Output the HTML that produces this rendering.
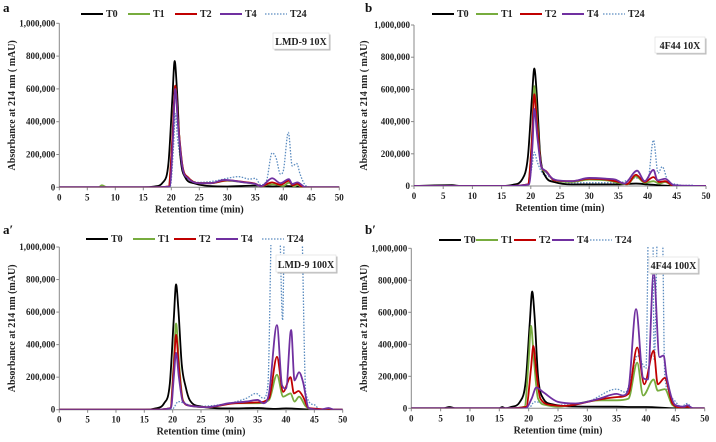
<!DOCTYPE html>
<html><head><meta charset="utf-8">
<style>
html,body{margin:0;padding:0;background:#fff;}
svg{display:block;font-family:"Liberation Serif",serif;}
.tick{font-size:9px;font-weight:bold;fill:#222;}
.ttl{font-size:10px;font-weight:bold;fill:#222;}
.leg{font-size:10px;font-weight:bold;fill:#222;}
.panel{font-size:13px;font-weight:bold;fill:#111;}
</style></head>
<body>
<svg id="chart" width="716" height="442" viewBox="0 0 716 442"></svg>
<script>
// ---- data (values in thousands of mAU), points are [time(min), value] ----
const xTicks=[0,5,10,15,20,25,30,35,40,45,50];
const yTicks=[0,200000,400000,600000,800000,1000000];
const yTickLabels=["0","200,000","400,000","600,000","800,000","1,000,000"];
const seriesNames=["T0","T1","T2","T4","T24"];

const aT0=[[0,0],[15,0],[17,5],[18.5,30],[19.5,150],[20.2,550],[20.6,770],[21,600],[21.6,200],[22.5,60],[24,25],[26,10],[30,5],[35,10],[38,5],[40,8],[45,0],[50,0]];
const aT1=[[0,0],[7,0],[7.6,12],[8.5,0],[16,0],[19.5,5],[20.2,300],[20.7,620],[21.2,400],[22,130],[23,60],[25,25],[27,25],[30,40],[33,30],[35,20],[36,5],[37.5,18],[38.5,18],[40,8],[41,28],[42,5],[42.5,15],[43.5,0],[50,0]];
const aT2=[[0,0],[16,0],[19.5,5],[20.2,300],[20.7,620],[21.2,400],[22,130],[23,60],[25,25],[27,25],[30,42],[33,32],[35,22],[36,6],[38,30],[39.5,15],[41,40],[41.7,12],[42.5,22],[43.5,0],[50,0]];
const aT4=[[0,0],[16,0],[19.7,5],[20.3,300],[20.7,600],[21.2,380],[22,120],[23,55],[25,25],[27,25],[29.5,45],[33,30],[35,20],[36,6],[38,55],[39.5,25],[41,50],[41.6,20],[42.5,30],[44,0],[50,0]];
const aT24=[[0,0],[16,0],[19.8,5],[20.4,250],[20.7,450],[21.1,300],[22,120],[23,60],[25,30],[28,40],[30,55],[32,65],[34,50],[35,55],[36,15],[37,40],[38,210],[38.7,180],[39.5,80],[40,100],[40.9,335],[41.6,130],[42.4,145],[43,80],[44,10],[45,0],[50,0]];

const bT0=[[0,0],[6.5,5],[8,0],[15,0],[17,8],[18.5,40],[19.5,180],[20.2,550],[20.6,730],[21,580],[21.6,200],[22.5,60],[24,25],[27,10],[35,10],[38,15],[40,10],[45,0],[50,0]];
const bT1=[[0,0],[16,0],[19.5,10],[20.2,300],[20.6,620],[21.1,400],[21.8,120],[22.5,90],[24,35],[27,25],[30,40],[33,35],[35,20],[36.5,10],[38,60],[39.5,20],[41,30],[42,15],[43,25],[44.5,0],[50,0]];
const bT2=[[0,0],[16,0],[19.5,10],[20.2,290],[20.6,570],[21.1,370],[21.8,120],[22.5,95],[24,35],[27,30],[30,45],[33,40],[35,25],[36.5,12],[38,70],[39.5,25],[41,55],[42,25],[43,30],[44.5,0],[50,0]];
const bT4=[[0,0],[16,0],[19.7,10],[20.3,260],[20.6,480],[21.1,310],[21.8,120],[22.3,100],[24,40],[27,30],[30,50],[33,45],[34.5,40],[36,15],[38.2,95],[39.5,30],[41,100],[41.7,35],[43,45],[44.5,5],[50,0]];
const bT24=[[0,0],[16,0],[19.5,5],[20.2,120],[20.6,210],[21.1,150],[22,80],[23,60],[25,30],[27,20],[35,20],[38,50],[40,30],[41,285],[41.8,80],[42.5,120],[43.5,30],[45,10],[46,3],[47.5,5],[48.5,0],[50,0]];

const cT0=[[0,0],[15,0],[17,8],[18.5,40],[19.5,160],[20.2,560],[20.6,770],[21,620],[21.6,280],[22.3,140],[23,60],[25,20],[30,8],[35,10],[38,5],[40,8],[45,0],[50,0]];
const cT1=[[0,0],[16,0],[19.6,10],[20.2,300],[20.6,530],[21.1,300],[21.8,60],[23,25],[26,15],[31,40],[35,40],[37,60],[38.4,215],[39.5,80],[40.8,100],[41.5,50],[42.3,80],[43.5,20],[45,0],[50,0]];
const cT2=[[0,0],[16,0],[19.6,10],[20.2,260],[20.6,460],[21.1,260],[21.8,55],[23,25],[26,15],[31,40],[35,45],[37,70],[38.4,325],[39.5,110],[40.8,200],[41.4,100],[42.2,115],[43,80],[44,10],[50,0]];
const cT4=[[0,0],[16,0],[19.7,10],[20.2,200],[20.6,350],[21.1,200],[21.8,50],[24,20],[26,15],[30,40],[33,50],[35,60],[36,40],[37,100],[38.4,520],[39.3,150],[40,130],[40.9,490],[41.5,180],[42.3,230],[43,170],[44,10],[46,0],[47.5,10],[48.5,0],[50,0]];
const cT24=[[0,0],[19,0],[20,5],[21,50],[22,40],[24,20],[30,40],[33,70],[34.7,100],[36,70],[36.8,150],[37.6,1300],[38.7,1300],[39.4,550],[39.8,1300],[40.3,1300],[42.6,1300],[43.5,100],[45,30],[46,0],[47.5,10],[48.5,0],[50,0]];

const dT0=[[0,0],[5.5,0],[6.5,8],[7.5,0],[15,0],[15.5,8],[16,0],[17,8],[18.5,40],[19.5,170],[20.2,540],[20.6,730],[21,580],[21.6,200],[22.5,60],[24,25],[27,12],[35,10],[38,8],[40,8],[45,0],[50,0]];
const dT1=[[0,0],[16,0],[19.3,10],[20,300],[20.4,515],[20.9,300],[21.6,60],[23,20],[25,10],[32,50],[35,50],[37,60],[38.5,285],[39.5,80],[41.3,180],[42,110],[43.2,120],[44.5,20],[46,5],[47,10],[48,0],[50,0]];
const dT2=[[0,0],[16,0],[19.6,10],[20.4,250],[20.8,390],[21.3,230],[22,60],[24,20],[26,15],[32,55],[35,70],[37,90],[38.5,380],[39.7,150],[41.3,360],[42,150],[43.2,190],[44.5,30],[46,5],[47,10],[48,0],[50,0]];
const dT4=[[0,0],[19.5,0],[20.5,60],[21.3,130],[22.5,100],[25,40],[28,30],[32,60],[35,90],[36,80],[37,120],[38.3,620],[39.5,190],[40.3,180],[41.3,850],[42.3,320],[43,330],[43.5,200],[45,20],[46.5,10],[47,20],[48,0],[50,0]];
const dT24=[[0,0],[20,0],[21,40],[25,20],[30,40],[35,120],[36.5,100],[37.5,200],[38.5,330],[40,250],[40.5,1300],[41.1,1300],[41.4,300],[42.1,1300],[42.7,1300],[43.2,200],[44.5,60],[46,10],[47,30],[48,0],[50,0]];

const colors=["#000000","#77ac3e","#c00000","#7030a0","#5b8cc0"];

const panels=[
 {id:"a",tag:"a",L:59.3,R:339.3,T:23.3,B:187.3,series:[aT0,aT1,aT2,aT4,aT24],ylab:"Absorbance at 214 nm ( mAU)",
  legY:17,legX:[81,128,175,220,265],label:"LMD-9 10X",box:[273,33,56,16],tagPos:[3,12]},
 {id:"b",tag:"b",L:414,R:706,T:25,B:186,series:[bT0,bT1,bT2,bT4,bT24],ylab:"Absorbance at 214 nm ( mAU)",
  legY:17,legX:[432,476,520,562,603],label:"4F44 10X",box:[655,37,50,16],tagPos:[365,12]},
 {id:"a-prime",tag:"a\u2032",L:59.3,R:342.7,T:247,B:409.7,series:[cT0,cT1,cT2,cT4,cT24],ylab:"Absorbance at 214 nm (mAU)",
  legY:242,legX:[86,133,174,216,262],label:"LMD-9 100X",box:[276,255,60,17],tagPos:[3,234]},
 {id:"b-prime",tag:"b\u2032",L:411.3,R:704.7,T:248.3,B:408.3,series:[dT0,dT1,dT2,dT4,dT24],ylab:"Absorbance at 214 nm (mAU)",
  legY:243,legX:[439,476,514,552,590],label:"4F44 100X",box:[649,257,49,16],tagPos:[365,234]}
];

const NS="http://www.w3.org/2000/svg";
const svg=document.getElementById("chart");
function mk(tag,attrs,parent){const e=document.createElementNS(NS,tag);for(const k in attrs)e.setAttribute(k,attrs[k]);(parent||svg).appendChild(e);return e;}

// monotone cubic path
function monoPath(pts){
  const n=pts.length;const xs=pts.map(p=>p[0]),ys=pts.map(p=>p[1]);
  const d=[],m=[];
  for(let i=0;i<n-1;i++)d.push((ys[i+1]-ys[i])/(xs[i+1]-xs[i]));
  m[0]=d[0];m[n-1]=d[n-2];
  for(let i=1;i<n-1;i++){ if(d[i-1]*d[i]<=0)m[i]=0; else m[i]=(d[i-1]+d[i])/2;}
  for(let i=0;i<n-1;i++){ if(d[i]===0){m[i]=0;m[i+1]=0;continue;}
    const a=m[i]/d[i],b=m[i+1]/d[i],s=a*a+b*b; if(s>9){const t=3/Math.sqrt(s);m[i]=t*a*d[i];m[i+1]=t*b*d[i];}}
  let s="M"+xs[0]+","+ys[0];
  for(let i=0;i<n-1;i++){const h=xs[i+1]-xs[i];
    s+=" C"+(xs[i]+h/3)+","+(ys[i]+m[i]*h/3)+" "+(xs[i+1]-h/3)+","+(ys[i+1]-m[i+1]*h/3)+" "+xs[i+1]+","+ys[i+1];}
  return s;
}

panels.forEach((p,pi)=>{
  const g=mk("g",{});
  
  
  const xs=t=>p.L+(t/50)*(p.R-p.L);
  const ys=v=>p.B-(v/1000000)*(p.B-p.T);
  const tg=mk("text",{x:p.tagPos[0],y:p.tagPos[1],class:"panel"},g);tg.textContent=p.tag;
  
  
  // axes
  const ax=mk("path",{d:`M${p.L},${p.T} L${p.L},${p.B} L${p.R},${p.B}`,stroke:"#888",fill:"none","stroke-width":1},g);
  
  
  yTicks.forEach((v,i)=>{const y=ys(v);
    mk("line",{x1:p.L-3,x2:p.L,y1:y,y2:y,stroke:"#888"},g);
    const t=mk("text",{x:p.L-4,y:y+3,class:"tick","text-anchor":"end"},g);t.textContent=yTickLabels[i];
    
    });
  xTicks.forEach(v=>{const x=xs(v);
    mk("line",{x1:x,x2:x,y1:p.B,y2:p.B+3,stroke:"#888"},g);
    const t=mk("text",{x:x,y:p.B+13,class:"tick","text-anchor":"middle"},g);t.textContent=v;
    
    });
  const xt=mk("text",{x:(p.L+p.R)/2,y:p.B+25,class:"ttl","text-anchor":"middle"},g);xt.textContent="Retention time (min)";
  
  
  const yx=15+(pi%2)*352,yy=(p.T+p.B)/2;
  const yt=mk("text",{x:yx,y:yy,class:"ttl","text-anchor":"middle",transform:`rotate(-90 ${yx} ${yy})`},g);yt.textContent=p.ylab;
  
  
  // clip
  const cp=mk("clipPath",{id:"clip"+pi},g);mk("rect",{x:p.L,y:p.T-2,width:p.R-p.L,height:p.B-p.T+2},cp);
  // series (T24 first so solid lines on top)
  [4,0,1,2,3].forEach(si=>{
    const pts=p.series[si].map(q=>[xs(q[0]),ys(q[1]*1000)]);
    const path=mk("path",{d:monoPath(pts),fill:"none",stroke:colors[si],"stroke-width":si===4?1.3:1.8,"clip-path":`url(#clip${pi})`},g);
    if(si===4)path.setAttribute("stroke-dasharray","1.5,1.5");
    
    
  });
  // legend
  seriesNames.forEach((nm,si)=>{
    const lx=p.legX[si];
    const ln=mk("line",{x1:lx,x2:lx+22,y1:p.legY-3,y2:p.legY-3,stroke:colors[si],"stroke-width":si===4?1.3:2},g);
    if(si===4)ln.setAttribute("stroke-dasharray","1.5,1.5");
    
    
    const t=mk("text",{x:lx+25,y:p.legY,class:"leg"},g);t.textContent=nm;
    
    
  });
  // label box
  const b=p.box;
  mk("rect",{x:b[0]+1.5,y:b[1]+1.5,width:b[2],height:b[3],fill:"#bbb"},g);
  const br=mk("rect",{x:b[0],y:b[1],width:b[2],height:b[3],fill:"#fff",stroke:"#ddd","stroke-width":0.6},g);
  
  
  const lt=mk("text",{x:b[0]+b[2]/2,y:b[1]+b[3]-4,class:"ttl","text-anchor":"middle","font-size":"11"},g);lt.textContent=p.label;
  
  
});
</script>
</body></html>
